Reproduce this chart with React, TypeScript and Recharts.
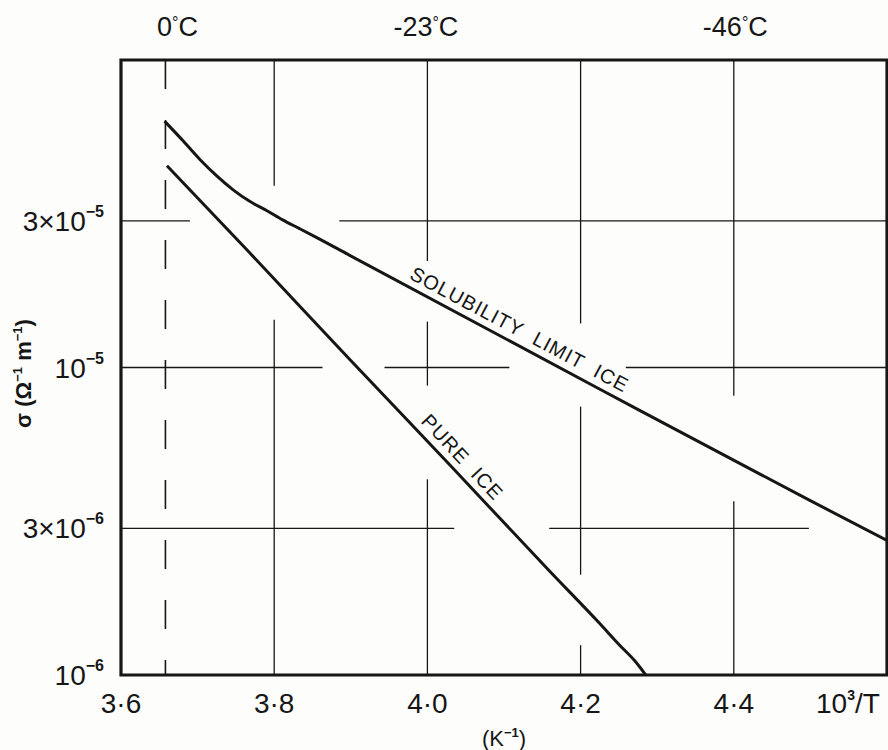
import React from "react";
import {
  ComposedChart,
  Line,
  Scatter,
  XAxis,
  YAxis,
  ReferenceLine,
  ReferenceArea,
} from "recharts";

const INK = "#161616";
const FONT = "'Liberation Sans', Arial, sans-serif";

// x = 10^3/T (K^-1), y = conductivity sigma (ohm^-1 m^-1)
const solubilityX = [3.657, 3.681, 3.703, 3.725, 3.746, 3.768, 3.79, 3.811, 3.833, 3.855, 3.898, 4.224, 4.498, 4.6];
const solubilityY = [6.32e-5, 5.46e-5, 4.75e-5, 4.2e-5, 3.79e-5, 3.47e-5, 3.24e-5, 3.02e-5, 2.83e-5, 2.65e-5, 2.32e-5, 8.53e-6, 3.71e-6, 2.74e-6];

const pureX = [3.66, 3.768, 3.899, 4.03, 4.16, 4.225, 4.251, 4.271, 4.285];
const pureY = [4.53e-5, 2.36e-5, 1.06e-5, 4.8e-6, 2.17e-6, 1.47e-6, 1.25e-6, 1.11e-6, 1.0e-6];

const bottomTicks = [3.6, 3.8, 4.0, 4.2, 4.4, 4.549];
const bottomTickLabels = ["3·6", "3·8", "4·0", "4·2", "4·4", "10/T"];

const topTicks = [3.658, 3.998, 4.402];
const topTickLabels = ["0", "-23", "-46"];

const yTicks = [1e-6, 3e-6, 1e-5, 3e-5];
const yTickCoef = ["", "3×", "", "3×"];
const yTickExp = ["−6", "−6", "−5", "−5"];

// 0 °C line
const meltX = 3.658;

// hand-drawn grid: broken where the curves and labels pass
const gridVX = [3.8, 4.0, 4.2, 4.4];
const gridVSpans = [
  [[1e-4, 3.9e-5], [1.43e-5, 1e-6]],
  [[1e-4, 2.22e-5], [1.41e-5, 8.73e-6], [4.33e-6, 1e-6]],
  [[1e-4, 1.39e-5], [7.46e-6, 2.12e-6], [1.25e-6, 1e-6]],
  [[1e-4, 8.09e-6], [3.67e-6, 1e-6]],
];
const gridHY = [3e-5, 1e-5, 3e-6];
const gridHSpans = [
  [[3.6, 3.69], [3.885, 4.6]],
  [[3.6, 3.863], [3.944, 4.107], [4.259, 4.6]],
  [[3.6, 4.035], [4.159, 4.498]],
];

const curveLabels = [
  { x: 4.116, y: 1.27e-5, text: "SOLUBILITY\u00a0 LIMIT\u00a0 ICE", angle: 28 },
  { x: 4.039, y: 4.93e-6, text: "PURE\u00a0 ICE", angle: 47 },
];

const solubility = solubilityX.map((x, i) => ({ x, y: solubilityY[i] }));
const pure = pureX.map((x, i) => ({ x, y: pureY[i] }));

function BottomTick({ x, y, index }: any) {
  if (index === bottomTicks.length - 1) {
    return (
      <text x={x} y={y + 30} textAnchor="middle" fontSize={28} fill={INK} fontFamily={FONT}>
        10
        <tspan dy={-13} fontSize={14} fontWeight="bold">3</tspan>
        <tspan dy={13}>/T</tspan>
      </text>
    );
  }
  return (
    <text x={x} y={y + 30} textAnchor="middle" fontSize={28} fill={INK} fontFamily={FONT}>
      {bottomTickLabels[index]}
    </text>
  );
}

function TopTick({ x, y, index }: any) {
  return (
    <text x={x + (index === 0 ? 12 : 0)} y={y - 16} textAnchor="middle" fontSize={27} fill={INK} fontFamily={FONT}>
      {topTickLabels[index]}
      <tspan dy={-8} fontSize={16}>°</tspan>
      <tspan dy={8}>C</tspan>
    </text>
  );
}

function LeftTick({ x, y, payload }: any) {
  const i = yTicks.indexOf(payload.value);
  return (
    <text x={x - 9} y={y + 10} textAnchor="end" fontSize={28} fill={INK} fontFamily={FONT}>
      {yTickCoef[i]}10
      <tspan dy={-14} fontSize={16} fontWeight="bold">{yTickExp[i]}</tspan>
    </text>
  );
}

function UnitLabel({ viewBox }: any) {
  const cx = viewBox.x + viewBox.width / 2;
  return (
    <text x={cx} y={viewBox.y + 71} textAnchor="middle" fontSize={22} fill={INK} fontFamily={FONT}>
      (K
      <tspan dy={-9} fontSize={13} fontWeight="bold">−1</tspan>
      <tspan dy={9}>)</tspan>
    </text>
  );
}

function SigmaLabel({ viewBox }: any) {
  const cx = 31;
  const cy = viewBox.y + viewBox.height / 2 + 6;
  return (
    <text
      x={cx}
      y={cy}
      transform={`rotate(-90 ${cx} ${cy})`}
      textAnchor="middle"
      fontSize={22}
      fontWeight="bold"
      fill={INK}
      fontFamily={FONT}
    >
      σ (Ω
      <tspan dy={-9} fontSize={13}>−1</tspan>
      <tspan dy={9}> m</tspan>
      <tspan dy={-9} fontSize={13}>−1</tspan>
      <tspan dy={9}>)</tspan>
    </text>
  );
}

export default function App() {
  return (
    <div style={{ position: "absolute", left: 0, top: 0, width: 888, height: 750, background: "#fdfdfb" }}>
      <ComposedChart width={888} height={750} margin={{ top: 0, right: 1, bottom: 0, left: 0 }}>
        <XAxis
          xAxisId="bottom"
          dataKey="x"
          type="number"
          domain={[3.6, 4.6]}
          ticks={bottomTicks}
          interval={0}
          allowDataOverflow
          height={75}
          axisLine={false}
          tickLine={false}
          tick={<BottomTick />}
          label={{ content: (p: any) => <UnitLabel {...p} /> }}
        />
        <XAxis
          xAxisId="top"
          dataKey="x"
          orientation="top"
          type="number"
          domain={[3.6, 4.6]}
          ticks={topTicks}
          interval={0}
          allowDataOverflow
          height={60}
          axisLine={false}
          tickLine={false}
          tick={<TopTick />}
        />
        <YAxis
          dataKey="y"
          type="number"
          scale="log"
          domain={[1e-6, 1e-4]}
          ticks={yTicks}
          interval={0}
          allowDataOverflow
          width={121}
          axisLine={false}
          tickLine={false}
          tick={<LeftTick />}
          label={{ content: (p: any) => <SigmaLabel {...p} /> }}
        />

        {gridVX.map((gx, i) =>
          gridVSpans[i].map(([y1, y2], j) => (
            <ReferenceLine
              key={`v${i}-${j}`}
              xAxisId="bottom"
              segment={[{ x: gx, y: y1 }, { x: gx, y: y2 }]}
              stroke={INK}
              strokeWidth={1.3}
            />
          ))
        )}
        {gridHY.map((gy, i) =>
          gridHSpans[i].map(([x1, x2], j) => (
            <ReferenceLine
              key={`h${i}-${j}`}
              xAxisId="bottom"
              segment={[{ x: x1, y: gy }, { x: x2, y: gy }]}
              stroke={INK}
              strokeWidth={1.3}
            />
          ))
        )}
        <ReferenceLine
          xAxisId="bottom"
          segment={[{ x: meltX, y: 1e-4 }, { x: meltX, y: 1e-6 }]}
          stroke={INK}
          strokeWidth={1.6}
          strokeDasharray="29 31"
        />
        <ReferenceArea
          xAxisId="bottom"
          x1={3.6}
          x2={4.6}
          y1={1e-6}
          y2={1e-4}
          fill="none"
          stroke={INK}
          strokeWidth={3.2}
        />

        <Line
          xAxisId="bottom"
          data={solubility}
          dataKey="y"
          type="monotone"
          stroke={INK}
          strokeWidth={3}
          dot={false}
          isAnimationActive={false}
        />
        <Line
          xAxisId="bottom"
          data={pure}
          dataKey="y"
          type="monotone"
          stroke={INK}
          strokeWidth={3}
          dot={false}
          isAnimationActive={false}
        />
        {curveLabels.map((lb) => (
          <Scatter
            key={lb.text}
            xAxisId="top"
            data={[{ x: lb.x, y: lb.y }]}
            isAnimationActive={false}
            shape={(p: any) => (
              <text
                x={p.cx}
                y={p.cy}
                transform={`rotate(${lb.angle} ${p.cx} ${p.cy})`}
                textAnchor="middle"
                fontSize={20}
                letterSpacing={1}
                fill={INK}
                fontFamily={FONT}
              >
                {lb.text}
              </text>
            )}
          />
        ))}
      </ComposedChart>
    </div>
  );
}
